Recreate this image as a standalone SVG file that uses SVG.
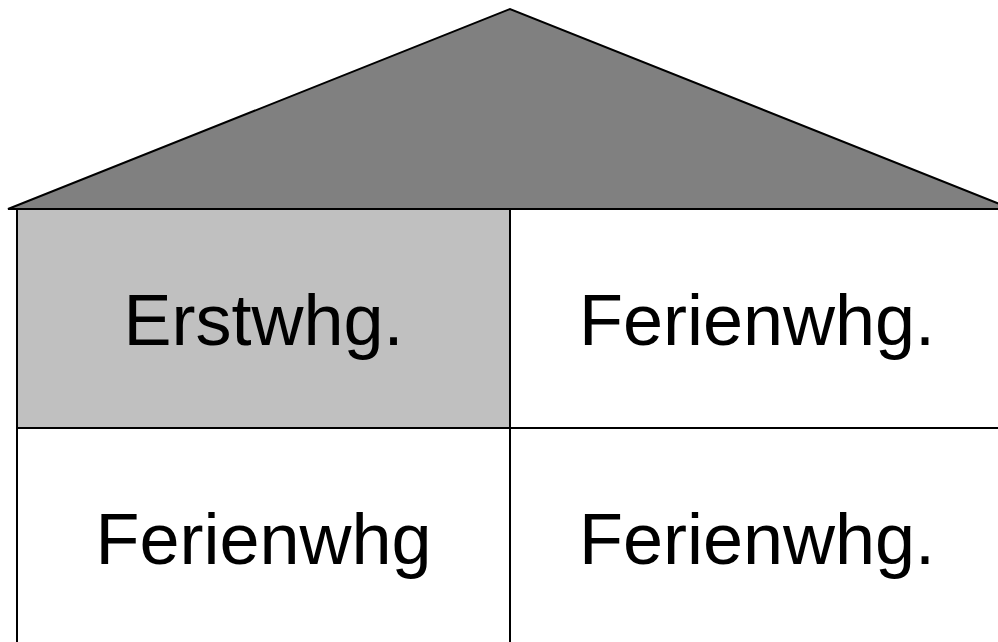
<svg xmlns="http://www.w3.org/2000/svg" width="998" height="642" viewBox="0 0 998 642">
<style>
.ln{stroke:#000;stroke-width:2;fill:none}
.t{font-family:"Liberation Sans",Arial,sans-serif;font-size:72px;fill:#000;text-anchor:middle}
</style>
<rect x="0" y="0" width="998" height="642" fill="#fff"/>
<g id="roof">
<polygon points="8,209 510,9 1012,209" fill="#808080" stroke="#000" stroke-width="2" stroke-linejoin="miter"/>
</g>
<g id="cell-erstwhg">
<rect x="17" y="209" width="493" height="219" fill="#c0c0c0"/>
<text class="t" x="263.5" y="345">Erstwhg.</text>
</g>
<g id="cell-ferienwhg-top">
<text class="t" x="757" y="345">Ferienwhg.</text>
</g>
<g id="cell-ferienwhg-bl">
<text class="t" x="263.5" y="564">Ferienwhg</text>
</g>
<g id="cell-ferienwhg-br">
<text class="t" x="757" y="564">Ferienwhg.</text>
</g>
<g id="lines">
<line class="ln" x1="8" y1="209" x2="998" y2="209"/>
<line class="ln" x1="17" y1="209" x2="17" y2="642"/>
<line class="ln" x1="510" y1="209" x2="510" y2="642"/>
<line class="ln" x1="17" y1="428" x2="998" y2="428"/>
</g>
</svg>
